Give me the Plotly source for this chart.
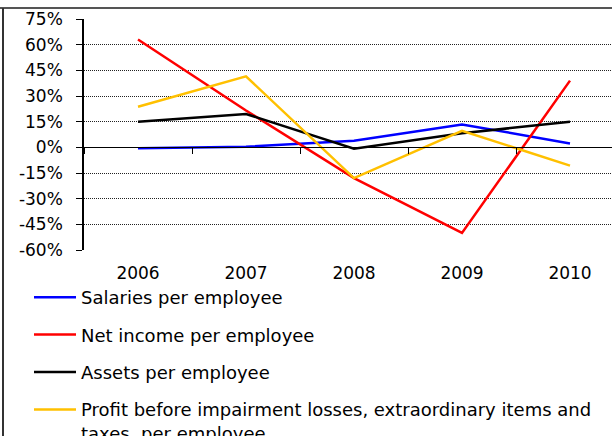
import plotly.graph_objects as go

years = ["2006", "2007", "2008", "2009", "2010"]
salaries = [-0.6, 0.3, 3.9, 13.4, 2.3]
net_income = [63.0, 21.5, -18.0, -50.0, 39.0]
assets = [15.0, 19.5, -0.8, 8.2, 15.0]
profit = [23.7, 41.5, -18.0, 9.7, -10.7]
y_ticks = [75, 60, 45, 30, 15, 0, -15, -30, -45, -60]
y_labels = [f"{v}%" for v in y_ticks]

names = ["Salaries per employee", "Net income per employee", "Assets per employee",
         "Profit before impairment losses, extraordinary items and<br>taxes, per employee"]
series = [salaries, net_income, assets, profit]
colors = ["#0000FF", "#FF0000", "#000000", "#FFC000"]

FONT = "DejaVu Sans"
FS = 17
LFS = 18
W, H = 612, 436
L, T, B = 84, 19, 186
PW = W - L
PH = H - T - B

xs = list(range(len(years)))
fig = go.Figure()
for i, (n, s, c) in enumerate(zip(names, series, colors)):
    fig.add_trace(go.Scatter(x=xs, y=s, name=n, mode="lines",
                             line=dict(color=c, width=2.5),
                             legendgroup=f"g{i}"))
# empty trace so the category-boundary ticks on the zero line are drawn
fig.add_trace(go.Scatter(x=[], y=[], xaxis="x2", yaxis="y", showlegend=False))

xr = [-0.5, -0.5 + PW / 108.0]
zero_frac = (0 - (-60)) / 135.0

fig.update_layout(
    width=W, height=H,
    margin=dict(l=L, r=0, t=T, b=B, autoexpand=False),
    paper_bgcolor="white", plot_bgcolor="white",
    font=dict(family=FONT, size=FS, color="black"),
    showlegend=True,
    legend=dict(x=(29 - L) / PW, xanchor="left", y=-(279 - T - PH) / PH, yanchor="top",
                bgcolor="rgba(0,0,0,0)", tracegroupgap=11, valign="top",
                font=dict(family=FONT, size=LFS), traceorder="grouped", itemwidth=42),
    xaxis=dict(range=xr, tickmode="array", tickvals=xs, ticktext=years,
               showgrid=False, zeroline=False, showline=False, ticks="",
               tickfont=dict(family=FONT, size=FS), ticklabelstandoff=11),
    xaxis2=dict(range=xr, overlaying="x", anchor="free", position=zero_frac,
                tickmode="array", tickvals=[-0.5, 0.5, 1.5, 2.5, 3.5, 4.5],
                showticklabels=False, ticks="outside", ticklen=6, tickcolor="black",
                tickwidth=1, showline=True, linecolor="black", linewidth=1,
                showgrid=False, zeroline=False),
    yaxis=dict(range=[-60, 75], tickmode="array", tickvals=y_ticks, ticktext=y_labels,
               showgrid=True, gridcolor="#222222", griddash="1px,1px", gridwidth=1,
               zeroline=False, showline=True, linecolor="black", linewidth=1.5,
               ticks="outside", ticklen=6, tickcolor="black",
               tickfont=dict(family=FONT, size=FS), ticklabelstandoff=10),
    shapes=[
        dict(type="line", xref="paper", yref="paper", x0=(0 - L) / PW, x1=1.0,
             y0=1 + (T - 8) / PH, y1=1 + (T - 8) / PH, line=dict(color="#555555", width=2)),
        dict(type="line", xref="paper", yref="paper", x0=(3 - L) / PW, x1=(3 - L) / PW,
             y0=1 + (T - 8) / PH, y1=-(H - T - PH) / PH, line=dict(color="#333333", width=2)),
    ],
)

fig.write_html("out.html", config={"displayModeBar": False},
               post_script="document.body.style.margin='0';document.body.style.overflow='hidden';")
